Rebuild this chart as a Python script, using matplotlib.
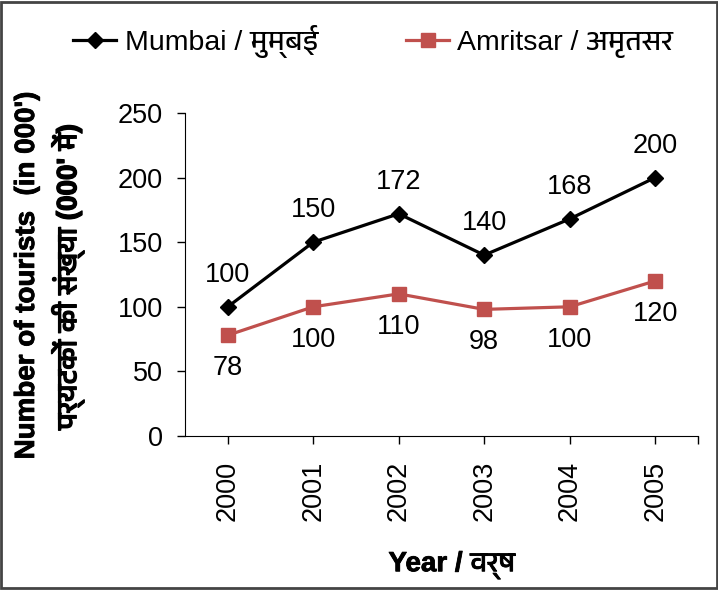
import matplotlib
matplotlib.use('Agg')
import matplotlib.pyplot as plt
from matplotlib import font_manager
from matplotlib.patches import Rectangle
import matplotlib.patheffects as pe

# pick up a Devanagari font if one is installed, otherwise fall back
deva = [f.name for f in font_manager.fontManager.ttflist if 'Devanagari' in f.name]
fams = ['Liberation Sans'] + sorted(set(deva)) + ['Noto Sans', 'DejaVu Sans']
plt.rcParams['font.family'] = fams

years = ['2000', '2001', '2002', '2003', '2004', '2005']
mumbai = [100, 150, 172, 140, 168, 200]
amritsar = [78, 100, 110, 98, 100, 120]
mumbai_name = 'Mumbai / मुम्बई'
amritsar_name = 'Amritsar / अमृतसर'
red = '#C0504D'
fs = 19.5

fig = plt.figure(figsize=(7.18, 5.90), dpi=100)
ax = fig.add_axes([0.2577, 0.261, 0.7143, 0.5475])
x = list(range(len(years)))

ax.plot(x, mumbai, color='black', lw=2.3, marker='D', ms=8, label=mumbai_name)
ax.plot(x, amritsar, color=red, lw=2.3, marker='s', ms=10, label=amritsar_name)

for xi, v in zip(x, mumbai):
    ax.annotate(str(v), (xi, v), xytext=(0, 32), textcoords='offset pixels',
                ha='center', va='center', fontsize=fs)
for xi, v in zip(x, amritsar):
    ax.annotate(str(v), (xi, v), xytext=(0, -33), textcoords='offset pixels',
                ha='center', va='center', fontsize=fs)

ax.set_xlim(-0.5, 5.5)
ax.set_ylim(0, 250)
ax.set_yticks(range(0, 251, 50))
ax.set_xticks(x)
ax.set_xticklabels(years, rotation=90)
ax.set_xticks([5.5], minor=True)
ax.tick_params(axis='both', labelsize=fs, length=6, width=1, direction='out')
ax.tick_params(axis='x', pad=12)
ax.tick_params(axis='y', pad=10)
ax.tick_params(axis='x', which='minor', length=6, width=1)
ax.spines['top'].set_visible(False)
ax.spines['right'].set_visible(False)

xl = ax.set_xlabel('Year / वर्ष', fontsize=20, fontweight='bold')
xl.set_va('center')
ax.xaxis.set_label_coords(0.52, -0.40)
xl.set_path_effects([pe.withStroke(linewidth=0.6, foreground='black')])

fig.text(0.0376, 0.533, "Number of tourists  (in 000')", rotation=90,
         ha='center', va='center', fontsize=20, fontweight='bold',
         path_effects=[pe.withStroke(linewidth=0.6, foreground='black')])
fig.text(0.094, 0.531, "पर्यटकों की संख्या (000' में)", rotation=90,
         ha='center', va='center', fontsize=20, fontweight='bold',
         path_effects=[pe.withStroke(linewidth=1.0, foreground='black')])

fig.legend(loc='center', bbox_to_anchor=(0.52, 0.929), ncol=2, frameon=False,
           fontsize=20.5, handlelength=1.5, columnspacing=3.1, handletextpad=0.3)

fig.patches.append(Rectangle((0.002, 0.004), 0.996, 0.993, transform=fig.transFigure,
                             fill=False, edgecolor='#444444', lw=2))

fig.savefig('out.png', dpi=100)
